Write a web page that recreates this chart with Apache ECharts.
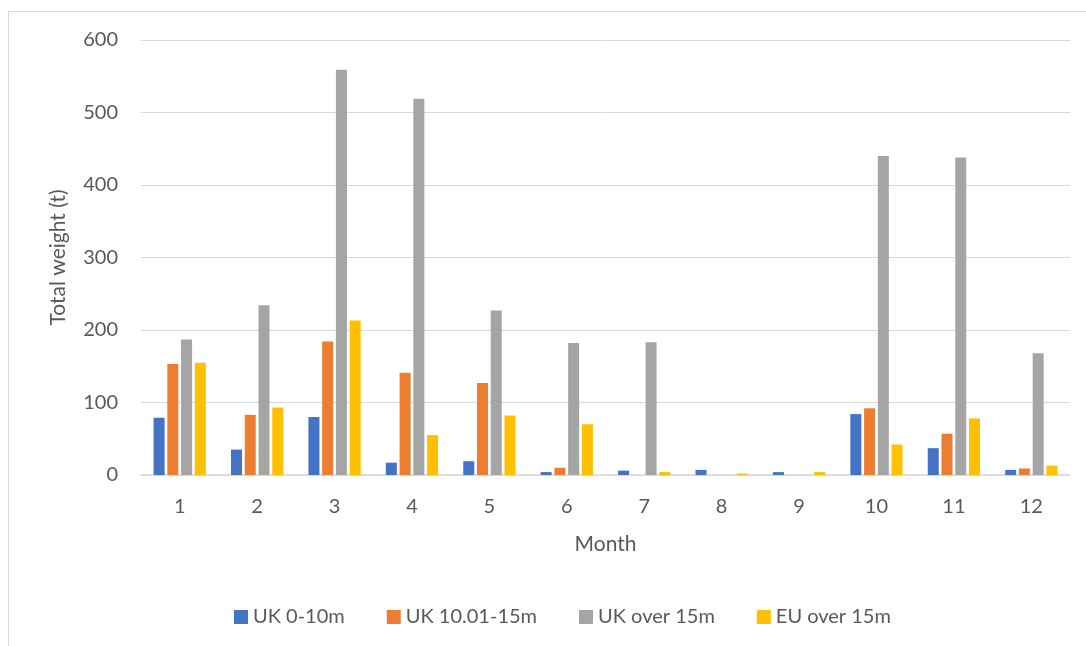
<!DOCTYPE html>
<html>
<head>
<meta charset="utf-8">
<script src="https://cdn.jsdelivr.net/npm/echarts@6/dist/echarts.min.js"></script>
<style>
  html, body { margin: 0; padding: 0; background: #fff; }
  #chart { width: 1086px; height: 646px; }
</style>
</head>
<body>
<div id="chart"></div>
<script>
// Monthly landed weight by vessel group (tonnes)
const months = ['1', '2', '3', '4', '5', '6', '7', '8', '9', '10', '11', '12'];
const uk0to10 = [79, 35, 80, 17, 19, 4, 6, 7, 4, 84, 37, 7];
const uk10to15 = [153, 83, 184, 141, 127, 10, 0, 0, 0, 92, 57, 9];
const ukOver15 = [187, 234, 559, 519, 227, 182, 183, 0, 0, 440, 438, 168];
const euOver15 = [155, 93, 213, 55, 82, 70, 4, 2, 4, 42, 78, 13];
const seriesNames = ['UK 0-10m', 'UK 10.01-15m', 'UK over 15m', 'EU over 15m'];
const yTicks = [0, 100, 200, 300, 400, 500, 600];

const colors = ['#4472C4', '#ED7D31', '#A5A5A5', '#FFC000'];
const textColor = '#595959';
const font = 'Lato, "Open Sans", sans-serif';

const chart = echarts.init(document.getElementById('chart'), null, { renderer: 'canvas' });

const values = [uk0to10, uk10to15, ukOver15, euOver15];

chart.setOption({
  animation: false,
  color: colors,
  textStyle: { fontFamily: font, color: textColor },
  graphic: [{
    type: 'rect',
    shape: { x: 8.5, y: 11.5, width: 1200, height: 800 },
    style: { fill: 'none', stroke: '#D9D9D9', lineWidth: 1 },
    silent: true
  }],
  grid: { left: 141, right: 16, top: 40, bottom: 171, containLabel: false },
  legend: {
    bottom: 14,
    left: 229,
    icon: 'rect',
    itemWidth: 14,
    itemHeight: 14,
    itemGap: 42,
    textStyle: { fontSize: 20, color: textColor, fontFamily: font },
    data: seriesNames
  },
  xAxis: {
    type: 'category',
    data: months,
    name: 'Month',
    nameLocation: 'middle',
    nameGap: 59,
    nameTextStyle: { fontSize: 21, color: textColor, fontFamily: font },
    axisLine: { lineStyle: { color: '#D9D9D9', width: 1.5 } },
    axisTick: { show: false },
    axisLabel: { fontSize: 20, color: textColor, margin: 22, fontFamily: font }
  },
  yAxis: {
    type: 'value',
    min: yTicks[0],
    max: yTicks[yTicks.length - 1],
    interval: 100,
    name: 'Total weight (t)',
    nameLocation: 'middle',
    nameGap: 72,
    nameTextStyle: { fontSize: 21, color: textColor, fontFamily: font },
    axisLine: { show: false },
    axisTick: { show: false },
    axisLabel: { fontSize: 20, color: textColor, margin: 23, fontFamily: font },
    splitLine: { lineStyle: { color: '#D9D9D9', width: 1 } }
  },
  series: seriesNames.map((name, i) => ({
    name: name,
    type: 'bar',
    data: values[i],
    barWidth: 11,
    barGap: '25%',
    itemStyle: { color: colors[i] }
  }))
});
</script>
</body>
</html>
